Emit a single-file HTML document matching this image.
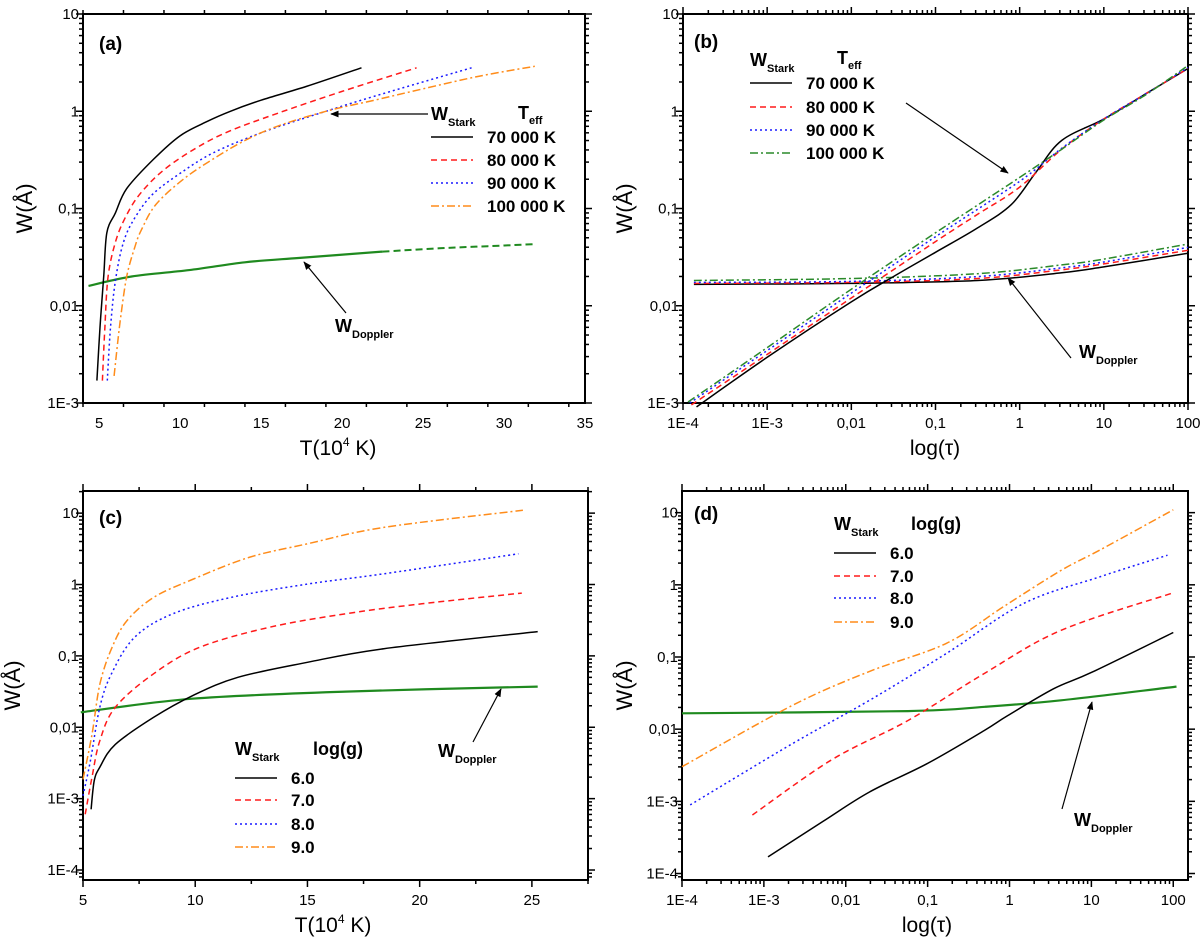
<!DOCTYPE html>
<html><head><meta charset="utf-8">
<style>
html,body{margin:0;padding:0;background:#fff;}
svg{display:block;font-family:"Liberation Sans",Arial,sans-serif;}
</style></head>
<body>
<svg id="fig" width="1200" height="937" viewBox="0 0 1200 937" xmlns="http://www.w3.org/2000/svg">
<defs>
<marker id="ah" viewBox="0 0 10 10" refX="9" refY="5" markerWidth="7" markerHeight="7" orient="auto-start-reverse"><path d="M0,1 L10,5 L0,9 z" fill="#000"/></marker>
</defs>
</svg>
<script>
// ---------- Panel (a) data: W vs T (10^4 K) ----------
const aBlackT=[4.86,5.05,5.28,5.47,6.0,6.7,8.35,10.0,11.7,13.1,15.0,17.8,21.2];
const aBlackW=[0.0017,0.006,0.02,0.056,0.09,0.16,0.32,0.56,0.79,1.0,1.3,1.8,2.8];
const aRedT=[5.2,5.35,5.55,6.0,6.6,7.5,9.0,11.0,13.0,16.0,20.0,24.6];
const aRedW=[0.0017,0.006,0.02,0.045,0.08,0.14,0.25,0.42,0.62,0.95,1.6,2.8];
const aBlueT=[5.5,5.7,6.0,6.5,7.2,8.3,10,12,15,19,23,28];
const aBlueW=[0.0017,0.006,0.018,0.045,0.08,0.14,0.23,0.37,0.6,1.0,1.6,2.8];
const aOrangeT=[5.92,6.3,6.7,7.2,7.6,8.5,10.2,12,14,16,19,22,25,28.5,31.9];
const aOrangeW=[0.0019,0.007,0.02,0.04,0.06,0.11,0.2,0.32,0.5,0.7,1.0,1.3,1.7,2.3,2.9];
const aDopT=[4.34,7,10.7,14,17.3,22.5];
const aDopW=[0.016,0.02,0.0234,0.028,0.031,0.036];
const aDop2T=[22.5,26,29,31.9];
const aDop2W=[0.036,0.039,0.041,0.043];
const aXTicks=[5,10,15,20,25,30,35];
const abYTickLabels=["1E-3","0,01","0,1","1","10"];
// ---------- Panel (b) data: log10 W vs log10 tau ----------
const bBlackX=[-3.84,-3,-2,-1.5,-1,-0.5,-0.1,0.2,0.5,1.0,1.5,2.0];
const bBlackY=[-3.04,-2.53,-1.96,-1.7,-1.45,-1.2,-0.96,-0.62,-0.3,-0.08,0.18,0.44];
const bRedX=[-3.9,-3,-2,-1,-0.5,0,0.5,1,1.5,2];
const bRedY=[-3.02,-2.5,-1.92,-1.34,-1.06,-0.78,-0.39,-0.08,0.18,0.44];
const bBlueX=[-3.92,-3,-2,-1,0,0.5,1,1.5,2];
const bBlueY=[-3.0,-2.46,-1.87,-1.29,-0.72,-0.38,-0.08,0.18,0.45];
const bGreenX=[-3.94,-3,-2,-1,0,0.5,1,1.5,2];
const bGreenY=[-2.99,-2.43,-1.83,-1.25,-0.68,-0.39,-0.09,0.17,0.47];
const bDopX=[-3.87,-2,-0.5,0.5,1,2];
const bDopBlackY=[-1.78,-1.77,-1.74,-1.66,-1.6,-1.46];
const bDopRedY=[-1.77,-1.76,-1.72,-1.63,-1.57,-1.43];
const bDopBlueY=[-1.76,-1.75,-1.7,-1.61,-1.55,-1.4];
const bDopGreenY=[-1.74,-1.72,-1.67,-1.58,-1.52,-1.365];
const bdXTickLabels=["1E-4","1E-3","0,01","0,1","1","10","100"];
// ---------- Panel (c) data: log10 W vs T ----------
const cBlackT=[5.36,5.5,5.75,6.44,8.15,9.87,11.9,15.0,18.4,25.26];
const cBlackY=[-3.15,-2.75,-2.56,-2.24,-1.86,-1.56,-1.3,-1.09,-0.9,-0.66];
const cRedT=[5.1,5.4,5.75,6.44,8.15,10.2,13.3,16.7,20.1,24.55];
const cRedY=[-3.22,-2.7,-2.19,-1.72,-1.25,-0.88,-0.6,-0.41,-0.27,-0.12];
const cBlueT=[5.0,5.33,5.75,6.27,7.3,9.0,11.6,15,18.4,24.4];
const cBlueY=[-2.96,-2.47,-1.72,-1.25,-0.74,-0.41,-0.18,0.006,0.15,0.43];
const cOrangeT=[5.0,5.4,5.75,6.27,6.95,8.15,9.87,12.4,15,18.4,24.6];
const cOrangeY=[-2.73,-2.1,-1.4,-0.9,-0.51,-0.18,0.07,0.38,0.57,0.8,1.04];
const cDopT=[4.9,9.87,16.7,25.26];
const cDopY=[-1.79,-1.6,-1.5,-1.43];
const cXTicks=[5,10,15,20,25];
const cdYTickLabels=["1E-4","1E-3","0,01","0,1","1","10"];
// ---------- Panel (d) data: log10 W vs log10 tau ----------
const dBlackX=[-2.95,-2.28,-1.71,-1.01,-0.31,-0.02,0.54,1.01,2.0];
const dBlackY=[-3.77,-3.28,-2.87,-2.48,-2.02,-1.81,-1.44,-1.21,-0.66];
const dRedX=[-3.14,-2.18,-1.24,-0.31,0.63,2];
const dRedY=[-3.19,-2.43,-1.88,-1.23,-0.63,-0.11];
const dBlueX=[-3.9,-2.65,-1.71,-0.77,0.17,1.1,1.93];
const dBlueY=[-3.05,-2.2,-1.6,-0.95,-0.26,0.11,0.41];
const dOrangeX=[-4,-2.65,-1.71,-0.77,-0.07,0.63,1.1,2];
const dOrangeY=[-2.52,-1.67,-1.2,-0.81,-0.3,0.2,0.48,1.04];
const dDopX=[-4,-1.24,-0.3,0.63,2.04];
const dDopY=[-1.78,-1.75,-1.69,-1.6,-1.41];

const NS="http://www.w3.org/2000/svg";
const svg=document.getElementById('fig');
function mk(tag,attrs,parent){const e=document.createElementNS(NS,tag);for(const k in attrs)e.setAttribute(k,attrs[k]);(parent||svg).appendChild(e);return e;}
function linScale(d0,d1,r0,r1){return v=>r0+(v-d0)/(d1-d0)*(r1-r0);}
const log10=Math.log10;

function makePanel(name,box,xr,yr){
  const g=mk('g',{});
  
  
  const sx=linScale(xr[0],xr[1],box.x0,box.x1);
  const sy=linScale(yr[0],yr[1],box.y1,box.y0);
  return {g,sx,sy,box,xr,yr};
}
function frame(P){
  const b=P.box;
  const r=mk('rect',{x:b.x0,y:b.y0,width:b.x1-b.x0,height:b.y1-b.y0,fill:'none',stroke:'#000','stroke-width':2},P.g);
  
  
}
function tick(P,x1,y1,x2,y2,w){mk('line',{x1,y1,x2,y2,stroke:'#000','stroke-width':w||1.5},P.g);}
function logYTicks(P,labels,firstExp){
  const b=P.box;
  for(let e=Math.floor(P.yr[0]);e<=Math.ceil(P.yr[1]);e++){
    for(let m=1;m<10;m++){
      const v=e+log10(m); if(v<P.yr[0]-1e-6||v>P.yr[1]+1e-6)continue;
      const y=P.sy(v); const L=m===1?7:4;
      tick(P,b.x0-L,y,b.x0,y); tick(P,b.x1,y,b.x1+L,y);
    }
  }
  labels.forEach((lab,i)=>{
    const y=P.sy(firstExp+i);
    const t=mk('text',{x:b.x0-4,y:y+5,'font-size':15,'text-anchor':'end',fill:'#000'},P.g);
    t.textContent=lab;
    
    
  });
}
function logXTicks(P,labels,firstExp){
  const b=P.box;
  for(let e=Math.floor(P.xr[0]);e<=Math.ceil(P.xr[1]);e++){
    for(let m=1;m<10;m++){
      const v=e+log10(m); if(v<P.xr[0]-1e-6||v>P.xr[1]+1e-6)continue;
      const x=P.sx(v); const L=m===1?7:4;
      tick(P,x,b.y1,x,b.y1+L); tick(P,x,b.y0-L,x,b.y0);
    }
  }
  labels.forEach((lab,i)=>{
    const x=P.sx(firstExp+i);
    const t=mk('text',{x:x,y:b.y1+25,'font-size':15,'text-anchor':'middle',fill:'#000'},P.g);
    t.textContent=lab;
    
    
  });
}
function linXTicks(P,ticks,minorStep){
  const b=P.box;
  for(let v=P.xr[0];v<=P.xr[1]+1e-6;v+=minorStep){
    const major=ticks.some(t=>Math.abs(t-v)<1e-6);
    const x=P.sx(v),L=major?7:4;
    tick(P,x,b.y1,x,b.y1+L); tick(P,x,b.y0-L,x,b.y0);
  }
  ticks.forEach(v=>{
    const t=mk('text',{x:P.sx(v),y:b.y1+25,'font-size':15,'text-anchor':'middle',fill:'#000'},P.g);
    t.textContent=String(v);
    
    
  });
}
function smoothPath(pts){
  let d='M'+pts[0][0].toFixed(1)+','+pts[0][1].toFixed(1);
  for(let i=0;i<pts.length-1;i++){
    const p0=pts[i-1]||pts[i],p1=pts[i],p2=pts[i+1],p3=pts[i+2]||pts[i+1];
    const c1=[p1[0]+(p2[0]-p0[0])/6,p1[1]+(p2[1]-p0[1])/6];
    const c2=[p2[0]-(p3[0]-p1[0])/6,p2[1]-(p3[1]-p1[1])/6];
    d+=' C'+c1[0].toFixed(1)+','+c1[1].toFixed(1)+' '+c2[0].toFixed(1)+','+c2[1].toFixed(1)+' '+p2[0].toFixed(1)+','+p2[1].toFixed(1);
  }
  return d;
}
function series(P,xs,ys,style,name,yIsLog){
  const pts=xs.map((x,i)=>[P.sx(x),P.sy(yIsLog?ys[i]:log10(ys[i]))]);
  const a={d:smoothPath(pts),fill:'none',stroke:style.c,'stroke-width':style.w||1.5};
  if(style.d)a['stroke-dasharray']=style.d;
  const p=mk('path',a,P.g);
  
  
}
function text(P,x,y,str,size,bold,name,anchor){
  const t=mk('text',{x,y,'font-size':size,'font-weight':bold?'bold':'normal','text-anchor':anchor||'start',fill:'#000'},P.g);
  t.textContent=str;
  
  
  return t;
}
function subText(P,x,y,main,sub,name){
  const t=mk('text',{x,y,'font-size':18,'font-weight':'bold',fill:'#000'},P.g);
  const s1=mk('tspan',{},t);s1.textContent=main;
  const s2=mk('tspan',{dy:6,'font-size':11},t);s2.textContent=sub;
  
  
}
function arrow(P,x1,y1,x2,y2,name){
  const l=mk('line',{x1,y1,x2,y2,stroke:'#000','stroke-width':1.2,'marker-end':'url(#ah)'},P.g);
  
  
}
function axisTitles(P,xlab,xsup,xrest,cx,ylabX){
  const b=P.box;
  const t=mk('text',{x:cx,y:b.y1+52,'font-size':21,'text-anchor':'middle',fill:'#000'},P.g);
  if(xsup){const a=mk('tspan',{},t);a.textContent=xlab;const s=mk('tspan',{dy:-9,'font-size':12},t);s.textContent=xsup;const r=mk('tspan',{dy:9},t);r.textContent=xrest;}
  else t.textContent=xlab;
  
  
  const cy=(b.y0+b.y1)/2;
  const y=mk('text',{x:ylabX,y:cy,'font-size':22,'text-anchor':'middle',fill:'#000',transform:`rotate(-90 ${ylabX} ${cy})`},P.g);
  y.textContent='W(Å)';
  
  
}
function legendLine(P,x,y,style,label,name){
  const a={x1:x,y1:y,x2:x+42,y2:y,stroke:style.c,'stroke-width':1.5};
  if(style.d)a['stroke-dasharray']=style.d;
  const l=mk('line',a,P.g);
  
  
  text(P,x+56,y+6,label,17,true,name);
}
const S={k:{c:'#000'},r:{c:'#ff1a1a',d:'6,4'},b:{c:'#1a1aff',d:'2,3'},o:{c:'#ff8c1a',d:'8,3,2,3'},g:{c:'#2a8a2a',d:'8,3,2,3'},G:{c:'#1f8a1f',w:2.2},Gd:{c:'#1f8a1f',w:2,d:'7,4'}};

// ===== Panel a =====
const A=makePanel('panel-a',{x0:83,x1:585,y0:14,y1:403},[4,35],[-3,1]);
frame(A);logYTicks(A,abYTickLabels,-3);linXTicks(A,aXTicks,2.5);
series(A,aDopT,aDopW,S.G,'doppler-line');
series(A,aDop2T,aDop2W,S.Gd,'doppler-line-dashed');
series(A,aBlackT,aBlackW,S.k,'stark-70000K');
series(A,aRedT,aRedW,S.r,'stark-80000K');
series(A,aBlueT,aBlueW,S.b,'stark-90000K');
series(A,aOrangeT,aOrangeW,S.o,'stark-100000K');
text(A,99,50,'(a)',19,true,'panel-label');
subText(A,431,120,'W','Stark','legend-title-wstark');
text(A,518,119,'T',18,true,'legend-title-teff');
text(A,529,124,'eff',11,true,'legend-title-teff-sub');
legendLine(A,431,137,S.k,'70 000 K','legend-70000K');
legendLine(A,431,160,S.r,'80 000 K','legend-80000K');
legendLine(A,431,183,S.b,'90 000 K','legend-90000K');
legendLine(A,431,206,S.o,'100 000 K','legend-100000K');
arrow(A,428,114,331,114,'stark-arrow');
arrow(A,346,313,304,262,'doppler-arrow');
subText(A,335,332,'W','Doppler','doppler-label');
axisTitles(A,'T(10','4',' K)',338,32);

// ===== Panel b =====
const B=makePanel('panel-b',{x0:683,x1:1188,y0:14,y1:403},[-4,2],[-3,1]);
frame(B);logYTicks(B,abYTickLabels,-3);logXTicks(B,bdXTickLabels,-4);
series(B,bDopX,bDopBlackY,S.k,'doppler-70000K',true);
series(B,bDopX,bDopRedY,S.r,'doppler-80000K',true);
series(B,bDopX,bDopBlueY,S.b,'doppler-90000K',true);
series(B,bDopX,bDopGreenY,S.g,'doppler-100000K',true);
series(B,bBlackX,bBlackY,S.k,'stark-70000K',true);
series(B,bRedX,bRedY,S.r,'stark-80000K',true);
series(B,bBlueX,bBlueY,S.b,'stark-90000K',true);
series(B,bGreenX,bGreenY,S.g,'stark-100000K',true);
text(B,694,48,'(b)',19,true,'panel-label');
subText(B,750,66,'W','Stark','legend-title-wstark');
text(B,837,64,'T',18,true,'legend-title-teff');
text(B,848,69,'eff',11,true,'legend-title-teff-sub');
legendLine(B,750,83,S.k,'70 000 K','legend-70000K');
legendLine(B,750,107,S.r,'80 000 K','legend-80000K');
legendLine(B,750,130,S.b,'90 000 K','legend-90000K');
legendLine(B,750,153,S.g,'100 000 K','legend-100000K');
arrow(B,906,103,1008,173,'stark-arrow');
arrow(B,1071,358,1008,278,'doppler-arrow');
subText(B,1079,358,'W','Doppler','doppler-label');
axisTitles(B,'log(τ)',null,null,935,632);

// ===== Panel c =====
const C=makePanel('panel-c',{x0:83,x1:588,y0:491,y1:880},[5,27.5],[-4.14,1.31]);
frame(C);logYTicks(C,cdYTickLabels,-4);linXTicks(C,cXTicks,2.5);
series(C,cDopT,cDopY,S.G,'doppler-line',true);
series(C,cBlackT,cBlackY,S.k,'stark-logg-6',true);
series(C,cRedT,cRedY,S.r,'stark-logg-7',true);
series(C,cBlueT,cBlueY,S.b,'stark-logg-8',true);
series(C,cOrangeT,cOrangeY,S.o,'stark-logg-9',true);
text(C,99,524,'(c)',19,true,'panel-label');
subText(C,235,755,'W','Stark','legend-title-wstark');
text(C,313,755,'log(g)',18,true,'legend-title-logg');
legendLine(C,235,778,S.k,'6.0','legend-logg-6');
legendLine(C,235,800,S.r,'7.0','legend-logg-7');
legendLine(C,235,824,S.b,'8.0','legend-logg-8');
legendLine(C,235,847,S.o,'9.0','legend-logg-9');
arrow(C,473,742,501,689,'doppler-arrow');
subText(C,438,757,'W','Doppler','doppler-label');
axisTitles(C,'T(10','4',' K)',333,20);

// ===== Panel d =====
const D=makePanel('panel-d',{x0:682,x1:1188,y0:491,y1:880},[-4,2.18],[-4.09,1.3]);
frame(D);logYTicks(D,cdYTickLabels,-4);logXTicks(D,bdXTickLabels,-4);
series(D,dDopX,dDopY,S.G,'doppler-line',true);
series(D,dBlackX,dBlackY,S.k,'stark-logg-6',true);
series(D,dRedX,dRedY,S.r,'stark-logg-7',true);
series(D,dBlueX,dBlueY,S.b,'stark-logg-8',true);
series(D,dOrangeX,dOrangeY,S.o,'stark-logg-9',true);
text(D,694,520,'(d)',19,true,'panel-label');
subText(D,834,530,'W','Stark','legend-title-wstark');
text(D,911,530,'log(g)',18,true,'legend-title-logg');
legendLine(D,834,553,S.k,'6.0','legend-logg-6');
legendLine(D,834,576,S.r,'7.0','legend-logg-7');
legendLine(D,834,598,S.b,'8.0','legend-logg-8');
legendLine(D,834,622,S.o,'9.0','legend-logg-9');
arrow(D,1062,809,1092,702,'doppler-arrow');
subText(D,1074,826,'W','Doppler','doppler-label');
axisTitles(D,'log(τ)',null,null,927,632);
</script>
</body></html>
